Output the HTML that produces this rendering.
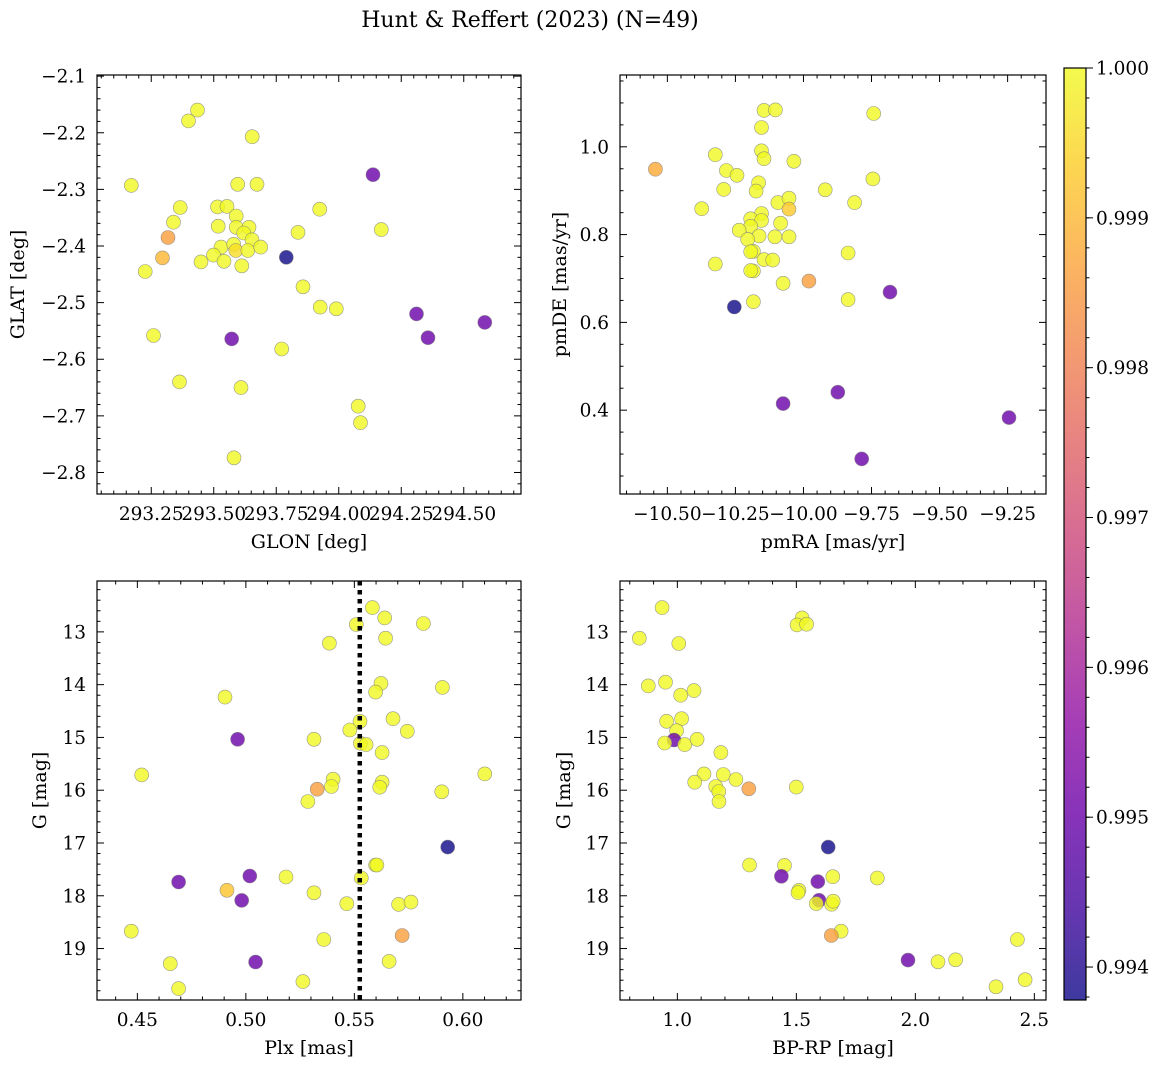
<!DOCTYPE html>
<html><head><meta charset="utf-8">
<style>
html,body{margin:0;padding:0;background:#fff;}
svg{display:block;font-family:"DejaVu Serif","Liberation Serif",serif;}
</style></head>
<body>
<svg id="fig" width="1161" height="1068" viewBox="0 0 1161 1068" xmlns="http://www.w3.org/2000/svg">
<text x="530" y="27" font-size="22" text-anchor="middle">Hunt &amp; Reffert (2023) (N=49)</text>
</svg>
<script>
// ---- data ----
const glonVals = [293.435,293.399,293.654,294.137,293.170,293.596,293.673,293.366,293.515,293.553,293.924,293.339,293.590,293.518,293.590,293.641,293.620,294.170,293.317,293.837,293.653,293.529,293.580,293.588,293.636,293.688,293.790,293.295,293.499,293.449,293.541,293.612,293.226,293.857,293.926,293.990,294.311,294.584,294.357,293.259,293.572,293.772,293.363,293.609,294.078,294.087,293.581];
const glatVals = [-2.160,-2.179,-2.207,-2.274,-2.293,-2.291,-2.291,-2.332,-2.331,-2.330,-2.335,-2.358,-2.347,-2.365,-2.367,-2.367,-2.377,-2.371,-2.385,-2.376,-2.389,-2.402,-2.397,-2.408,-2.408,-2.402,-2.420,-2.421,-2.416,-2.428,-2.427,-2.435,-2.445,-2.472,-2.508,-2.511,-2.520,-2.535,-2.562,-2.558,-2.564,-2.582,-2.640,-2.650,-2.683,-2.712,-2.774];
const glProb = [1,1,1,0.9950,1,1,1,1,1,1,1,1,1,1,1,1,1,1,0.9986,1,1,1,1,0.9996,1,1,0.99378,0.9990,1,1,1,1,1,1,1,1,0.9950,0.9950,0.9950,1,0.9950,1,1,1,1,1,1];

const pmraVals = [-10.145,-10.103,-9.742,-10.154,-10.324,-10.154,-10.145,-10.035,-10.544,-10.283,-10.244,-9.745,-10.165,-10.174,-10.293,-9.920,-10.094,-10.053,-9.812,-10.374,-10.053,-10.154,-10.194,-10.154,-10.194,-10.084,-10.236,-10.163,-10.105,-10.053,-10.205,-10.184,-10.194,-9.836,-10.145,-10.113,-10.324,-10.184,-10.194,-10.075,-9.980,-9.682,-9.836,-10.184,-10.254,-9.874,-10.075,-9.245,-9.786];
const pmdeVals = [1.083,1.084,1.076,1.044,0.982,0.991,0.973,0.967,0.949,0.946,0.935,0.927,0.918,0.899,0.903,0.902,0.873,0.883,0.873,0.859,0.858,0.848,0.836,0.832,0.819,0.826,0.810,0.797,0.795,0.795,0.789,0.762,0.761,0.758,0.743,0.742,0.733,0.717,0.718,0.689,0.694,0.669,0.652,0.647,0.635,0.441,0.415,0.383,0.289];
const pmProb = [1,1,1,1,1,1,1,1,0.9988,1,1,1,1,1,1,1,1,1,1,1,0.9993,1,1,1,1,1,1,1,1,1,1,1,1,1,1,1,1,1,1,1,0.9986,0.9950,1,1,0.99378,0.9950,0.9950,0.9950,0.9950];

const plxVals = [0.5583,0.5640,0.5509,0.5818,0.5644,0.5385,0.5623,0.5598,0.5906,0.4904,0.5526,0.5678,0.5479,0.5744,0.4962,0.5314,0.5528,0.5554,0.5628,0.4520,0.6101,0.5402,0.5394,0.5628,0.5617,0.5329,0.5903,0.5286,0.5930,0.5598,0.5604,0.5018,0.5185,0.5532,0.4690,0.4913,0.5314,0.4981,0.5465,0.5704,0.5761,0.4472,0.5359,0.5720,0.4652,0.5045,0.5660,0.5263,0.4690];
const gPlxVals = [12.540,12.735,12.861,12.842,13.120,13.214,13.977,14.141,14.052,14.235,14.695,14.645,14.859,14.884,15.035,15.035,15.111,15.136,15.287,15.710,15.691,15.791,15.930,15.848,15.943,15.980,16.031,16.214,17.077,17.417,17.417,17.625,17.644,17.663,17.739,17.896,17.943,18.088,18.150,18.163,18.120,18.671,18.829,18.753,19.287,19.255,19.243,19.627,19.759];
const plxProb = [1,1,1,1,1,1,1,1,1,1,1,1,1,1,0.9950,1,1,1,1,1,1,1,1,1,1,0.9986,1,1,0.99378,1,1,0.9950,1,1,0.9950,0.9992,1,0.9950,1,1,1,1,1,0.9986,1,0.9950,1,1,1];
const plxMedian = [0.5525];

const bprpVals = [0.936,0.840,1.006,1.524,1.503,1.543,0.878,0.950,1.014,1.070,0.955,1.018,0.997,0.986,0.947,1.031,1.083,1.183,1.112,1.073,1.193,1.246,1.161,1.174,1.175,1.300,1.500,1.634,1.303,1.450,1.437,1.590,1.653,1.840,1.511,1.507,1.595,1.584,1.648,1.655,1.688,1.647,1.969,2.095,2.169,2.429,2.339,2.461];
const gCmdVals = [12.540,13.120,13.221,12.736,12.868,12.855,14.023,13.954,14.200,14.112,14.695,14.645,14.872,15.048,15.105,15.136,15.035,15.287,15.691,15.848,15.703,15.798,15.930,16.024,16.214,15.974,15.942,17.077,17.417,17.424,17.632,17.732,17.638,17.663,17.896,17.940,18.085,18.148,18.160,18.103,18.671,18.753,19.219,19.251,19.213,18.829,19.724,19.591];
const cmdProb = [1,1,1,1,1,1,1,1,1,1,1,1,1,0.9950,1,1,1,1,1,1,1,1,1,1,1,0.9986,1,0.99378,1,1,0.9950,0.9950,1,1,1,1,0.9950,1,1,1,1,0.9986,0.9950,1,1,1,1,1];

const cbarTicks = [1.000,0.999,0.998,0.997,0.996,0.995,0.994];
const cMin = 0.99378, cMax = 1.0;

// ---- helpers ----
const NS = "http://www.w3.org/2000/svg";
const svg = document.getElementById('fig');
function mk(tag, attrs, parent){ const e=document.createElementNS(NS,tag); for(const k in attrs) e.setAttribute(k,attrs[k]); (parent||svg).appendChild(e); return e; }
const stops=[[13,8,135],[65,4,157],[106,0,168],[143,13,164],[177,42,144],[204,71,120],[225,100,98],[242,132,75],[252,166,54],[252,206,37],[240,249,33]];
function plasma(t){ t=Math.max(0,Math.min(1,t)); const f=t*10, i=Math.min(9,Math.floor(f)), r=f-i; const a=stops[i], b=stops[i+1]; return 'rgb('+a.map((v,k)=>Math.round(v+(b[k]-v)*r)).join(',')+')'; }
function fmt(v,d){ const s=Math.abs(v).toFixed(d); return (v< -1e-9?'\u2212':'')+s; }
const TICKFS=18.5, LABFS=19;

function panel(cfg){
  const {name,L,R,T,B,xmin,xmax,ymin,ymax,invY,xs,ys,ps,xMaj,xMin,yMaj,yMin,xd,yd,xlabel,ylabel,ylx} = cfg;
  const g = mk('g',{}); 
  
  
  const sx = v => L + (v-xmin)/(xmax-xmin)*(R-L);
  const sy = v => invY ? T + (v-ymin)/(ymax-ymin)*(B-T) : B - (v-ymin)/(ymax-ymin)*(B-T);
  const clipId = name+'-clip';
  const cp = mk('clipPath',{id:clipId},g); mk('rect',{x:L,y:T,width:R-L,height:B-T},cp);
  const pts = mk('g',{'clip-path':'url(#'+clipId+')'},g);
  for(let i=0;i<xs.length;i++){
    const c = mk('circle',{cx:sx(xs[i]).toFixed(1),cy:sy(ys[i]).toFixed(1),r:7,fill:plasma((ps[i]-cMin)/(cMax-cMin)),'fill-opacity':0.8,stroke:'#808080','stroke-opacity':0.8,'stroke-width':0.6},pts);
    
    
  }
  if(cfg.vline!==undefined){
    const l = mk('line',{x1:sx(cfg.vline),x2:sx(cfg.vline),y1:T,y2:B,stroke:'#000','stroke-width':4.5,'stroke-dasharray':'4.5,4.5'},pts);
    
    
  }
  const tk = mk('g',{stroke:'#000','stroke-width':1},g);
  const eps=1e-9;
  for(let v=Math.ceil(xmin/xMin-eps)*xMin; v<=xmax+eps; v+=xMin){
    const maj = Math.abs(v/xMaj-Math.round(v/xMaj))<1e-4; const len=maj?7:3.5; const x=sx(v);
    mk('line',{x1:x,x2:x,y1:B,y2:B-len},tk); mk('line',{x1:x,x2:x,y1:T,y2:T+len},tk);
    if(maj){ const t=mk('text',{x:x,y:B+26,'font-size':TICKFS,'text-anchor':'middle',stroke:'none',fill:'#000'},g); t.textContent=fmt(v,xd);
        }
  }
  for(let v=Math.ceil(ymin/yMin-eps)*yMin; v<=ymax+eps; v+=yMin){
    const maj = Math.abs(v/yMaj-Math.round(v/yMaj))<1e-4; const len=maj?7:3.5; const y=sy(v);
    mk('line',{x1:L,x2:L+len,y1:y,y2:y},tk); mk('line',{x1:R,x2:R-len,y1:y,y2:y},tk);
    if(maj){ const t=mk('text',{x:L-11,y:y+6.5,'font-size':TICKFS,'text-anchor':'end',fill:'#000'},g); t.textContent=fmt(v,yd);
        }
  }
  mk('rect',{x:L,y:T,width:R-L,height:B-T,fill:'none',stroke:'#000','stroke-width':1.2},g);
  const xl=mk('text',{x:(L+R)/2,y:B+54,'font-size':LABFS,'text-anchor':'middle'},g); xl.textContent=xlabel;
   
  const yl=mk('text',{x:ylx,y:(T+B)/2,'font-size':LABFS,'text-anchor':'middle',transform:'rotate(-90 '+ylx+' '+(T+B)/2+')'},g); yl.textContent=ylabel;
   
}

panel({name:'sky-position-panel',L:97,R:521,T:75,B:494,xmin:293.033,xmax:294.729,ymin:-2.838,ymax:-2.098,invY:false,
  xs:glonVals,ys:glatVals,ps:glProb,xMaj:0.25,xMin:0.05,yMaj:0.1,yMin:0.02,xd:2,yd:1,xlabel:'GLON [deg]',ylabel:'GLAT [deg]',ylx:24});
panel({name:'proper-motion-panel',L:620,R:1046,T:75,B:494,xmin:-10.674,xmax:-9.109,ymin:0.209,ymax:1.1636,invY:false,
  xs:pmraVals,ys:pmdeVals,ps:pmProb,xMaj:0.25,xMin:0.05,yMaj:0.2,yMin:0.05,xd:2,yd:1,xlabel:'pmRA [mas/yr]',ylabel:'pmDE [mas/yr]',ylx:566});
panel({name:'parallax-magnitude-panel',L:97,R:521,T:581,B:1000,xmin:0.4314,xmax:0.6268,ymin:12.036,ymax:19.975,invY:true,
  xs:plxVals,ys:gPlxVals,ps:plxProb,xMaj:0.05,xMin:0.01,yMaj:1,yMin:0.2,xd:2,yd:0,xlabel:'Plx [mas]',ylabel:'G [mag]',ylx:46,vline:plxMedian[0]});
panel({name:'color-magnitude-panel',L:620,R:1046,T:581,B:1000,xmin:0.759,xmax:2.549,ymin:12.036,ymax:19.975,invY:true,
  xs:bprpVals,ys:gCmdVals,ps:cmdProb,xMaj:0.5,xMin:0.1,yMaj:1,yMin:0.2,xd:1,yd:0,xlabel:'BP-RP [mag]',ylabel:'G [mag]',ylx:570});

// ---- colorbar ----
(function(){
  const L=1064,R=1086,T=68,B=1000;
  const g=mk('g',{});
  
  
  const defs=mk('defs',{},g);
  const lg=mk('linearGradient',{id:'cbgrad',x1:0,y1:1,x2:0,y2:0},defs);
  for(let i=0;i<=20;i++){ mk('stop',{offset:(i/20),'stop-color':plasma(i/20),'stop-opacity':0.8},lg); }
  mk('rect',{x:L,y:T,width:R-L,height:B-T,fill:'url(#cbgrad)'},g);
  const sy=v=>B-(v-cMin)/(cMax-cMin)*(B-T);
  for(let k=0;k<=31;k++){ const v=0.9938+k*0.0002; if(v>cMax+1e-9) break; const y=sy(v); mk('line',{x1:R,x2:R+3.5,y1:y,y2:y,stroke:'#000'},g); }
  cbarTicks.forEach(v=>{ const y=sy(v); mk('line',{x1:R,x2:R+7,y1:y,y2:y,stroke:'#000'},g);
    const t=mk('text',{x:R+10,y:y+6.5,'font-size':TICKFS},g); t.textContent=v.toFixed(3);
      });
  mk('rect',{x:L,y:T,width:R-L,height:B-T,fill:'none',stroke:'#000','stroke-width':1.2},g);
})();
</script>
</body></html>
